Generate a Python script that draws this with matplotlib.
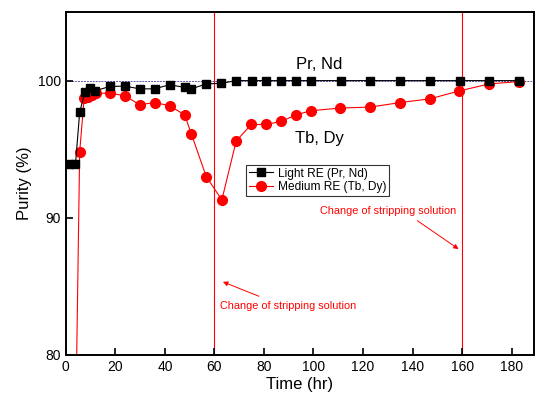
import matplotlib.pyplot as plt

plt.rcParams['font.family'] = ['Liberation Sans', 'DejaVu Sans']

# Light RE (Pr, Nd)
light_time = [1.2, 3.9, 5.6, 7.7, 9.7, 11.7, 17.7, 23.8, 29.8, 35.9, 41.9, 48.0, 50.7,
              56.7, 62.8, 68.8, 75.0, 81.0, 87.0, 93.0, 99.0, 111.0, 123.0, 135.0,
              147.0, 159.0, 171.0, 183.0]
light_purity = [93.95, 93.9, 97.7, 99.15, 99.45, 99.25, 99.57, 99.6, 99.4, 99.4, 99.7,
                99.5, 99.4, 99.76, 99.8, 100.0, 100.0, 100.0, 100.0, 100.0, 100.0,
                100.0, 100.0, 100.0, 100.0, 100.0, 100.0, 100.0]

# Medium RE (Tb, Dy)
medium_time = [4.0, 5.6, 7.4, 9.0, 10.6, 12.1, 17.7, 23.8, 29.8, 35.9, 41.9, 48.0, 50.7,
               56.7, 63.0, 68.8, 74.9, 80.9, 87.0, 93.0, 98.8, 110.9, 123.0, 135.0,
               147.0, 158.9, 171.0, 183.0]
medium_purity = [75.0, 94.8, 98.7, 98.84, 98.96, 99.08, 99.08, 98.9, 98.24, 98.4, 98.17,
                 97.5, 96.1, 93.0, 91.3, 95.6, 96.8, 96.8, 97.03, 97.5, 97.8, 98.0,
                 98.07, 98.4, 98.67, 99.25, 99.76, 99.93]

change_times = [60, 160]

fig = plt.figure(figsize=(5.35, 4.01), dpi=100)
ax = fig.add_axes([0.123, 0.115, 0.875, 0.855])

# reference line at 100 % and the stripping solution changes
ax.axhline(100, color="#5a5aa8", linewidth=0.7, linestyle=(0, (2, 1)), zorder=1)
for t in change_times:
    ax.axvline(t, color="red", linewidth=0.8, zorder=1)

ax.plot(light_time, light_purity, color="black", linewidth=0.8, marker="s",
        markersize=6, label="Light RE (Pr, Nd)", zorder=3)
ax.plot(medium_time, medium_purity, color="red", linewidth=0.8, marker="o",
        markersize=7, label="Medium RE (Tb, Dy)", zorder=2)

ax.text(102.5, 101.2, "Pr, Nd", fontsize=12, ha="center", va="center")
ax.text(102.5, 95.8, "Tb, Dy", fontsize=12, ha="center", va="center")

# annotations
ax.text(130.2, 90.5, "Change of stripping solution", color="red", fontsize=7.8,
        ha="center", va="center")
ax.annotate("", xy=(159.5, 87.6), xytext=(141, 89.9),
            arrowprops=dict(arrowstyle="-|>", color="red", lw=0.7, mutation_scale=7))
ax.text(89.9, 83.6, "Change of stripping solution", color="red", fontsize=7.8,
        ha="center", va="center")
ax.annotate("", xy=(62.4, 85.4), xytext=(79, 84.2),
            arrowprops=dict(arrowstyle="-|>", color="red", lw=0.7, mutation_scale=7))

ax.set_xlim(0, 189)
ax.set_ylim(80, 105)
ax.set_xticks(range(0, 181, 20))
ax.set_yticks([80, 90, 100])
ax.tick_params(direction="in", length=5, width=1.2, labelsize=10)
for s in ax.spines.values():
    s.set_linewidth(1.4)

ax.set_xlabel("Time (hr)", fontsize=12, labelpad=2)
ax.set_ylabel("Purity (%)", fontsize=12)

leg = ax.legend(loc="upper left", bbox_to_anchor=(0.385, 0.555), fontsize=8.6,
                frameon=True, fancybox=False, edgecolor="black", borderpad=0.25,
                handlelength=2.0, handletextpad=0.4, labelspacing=0.15,
                borderaxespad=0)
leg.get_frame().set_linewidth(0.8)

plt.savefig("out.png", dpi=100)
